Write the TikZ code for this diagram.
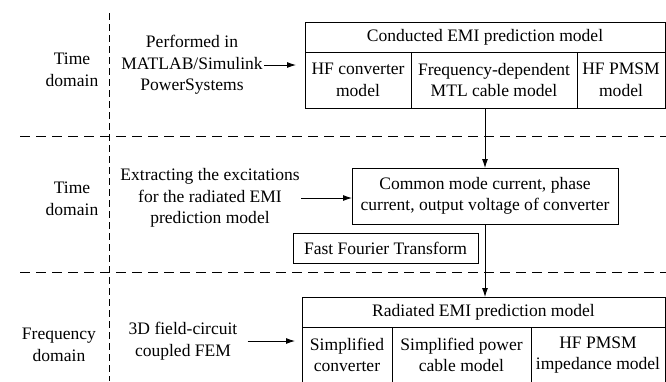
\documentclass[tikz,border=0pt]{standalone}
\usepackage{fontspec}
\setmainfont{Liberation Serif}
\usetikzlibrary{positioning}
\usetikzlibrary{arrows.meta}

\begin{document}
\begin{tikzpicture}[x=1bp, y=-1bp, >={Latex[length=9bp,width=6bp]}, line width=0.9bp,
    every node/.style = {font=\fontsize{17.6}{21.6}\selectfont, align=center, inner sep=1bp},
    box/.style = {draw, minimum height=30bp, outer sep=0pt},
    cell/.style = {draw, minimum height=56bp, outer sep=0pt},
    hsep/.style = {dash pattern=on 10bp off 6bp},
    vsep/.style = {dash pattern=on 7bp off 4bp}
    ]
    \clip (0,0) rectangle (666,381);
    % dashed separators
    \draw[vsep] (109,13) -- (109,381);
    \draw[hsep] (20,136) -- (666,136);
    \draw[hsep] (20,272) -- (666,272);

    % domain labels
    \node (td1) at (72,70) {Time\\domain};
    \node (td2) at (72,199) {Time\\domain};
    \node (fd) at (59,345) {Frequency\\domain};

    % conducted model
    \node[box, minimum width=360bp] (conducted) at (485,37) {Conducted EMI prediction model};
    \node[cell, minimum width=106bp, anchor=north west] (hfconv) at (conducted.south west) {HF converter\\model};
    \node[cell, minimum width=166bp, right=0pt of hfconv] (mtl) {Frequency-dependent\\MTL cable model};
    \node[cell, minimum width=88bp, right=0pt of mtl] (pmsm) {HF PMSM\\model};
    \node (matlab) at (192,65) {Performed in\\MATLAB/Simulink\\PowerSystems};

    % excitations
    \node[cell, minimum width=266bp] (common) at (485,196) {Common mode current, phase\\current, output voltage of converter};
    \node (extract) at (210,198) {Extracting the excitations\\for the radiated EMI\\prediction model};
    \node[box, minimum width=185bp] (fft) at (385.5,248.5) {Fast Fourier Transform};

    % radiated model
    \node[box, minimum width=363bp] (radiated) at (483.5,312) {Radiated EMI prediction model};
    \node[cell, minimum width=90bp, anchor=north west] (simconv) at (radiated.south west) {Simplified\\converter};
    \node[cell, minimum width=139bp, right=0pt of simconv] (simcable) {Simplified power\\cable model};
    \node[cell, minimum width=134bp, right=0pt of simcable] (pmsmimp) {HF PMSM\\impedance model};
    \node (fem) at (183,341) {3D field-circuit\\coupled FEM};

    \draw[->, shorten >=9bp] (matlab) -- (matlab -| hfconv.west);
    \draw[->] (extract) -- (extract -| common.west);
    \draw[->, shorten <=9bp, shorten >=7bp] (fem) -- (fem -| simconv.west);
    \draw[->] (common |- mtl.south) -- (common);
    \draw[->] (common) -- (common |- radiated.north);
\end{tikzpicture}
\end{document}
